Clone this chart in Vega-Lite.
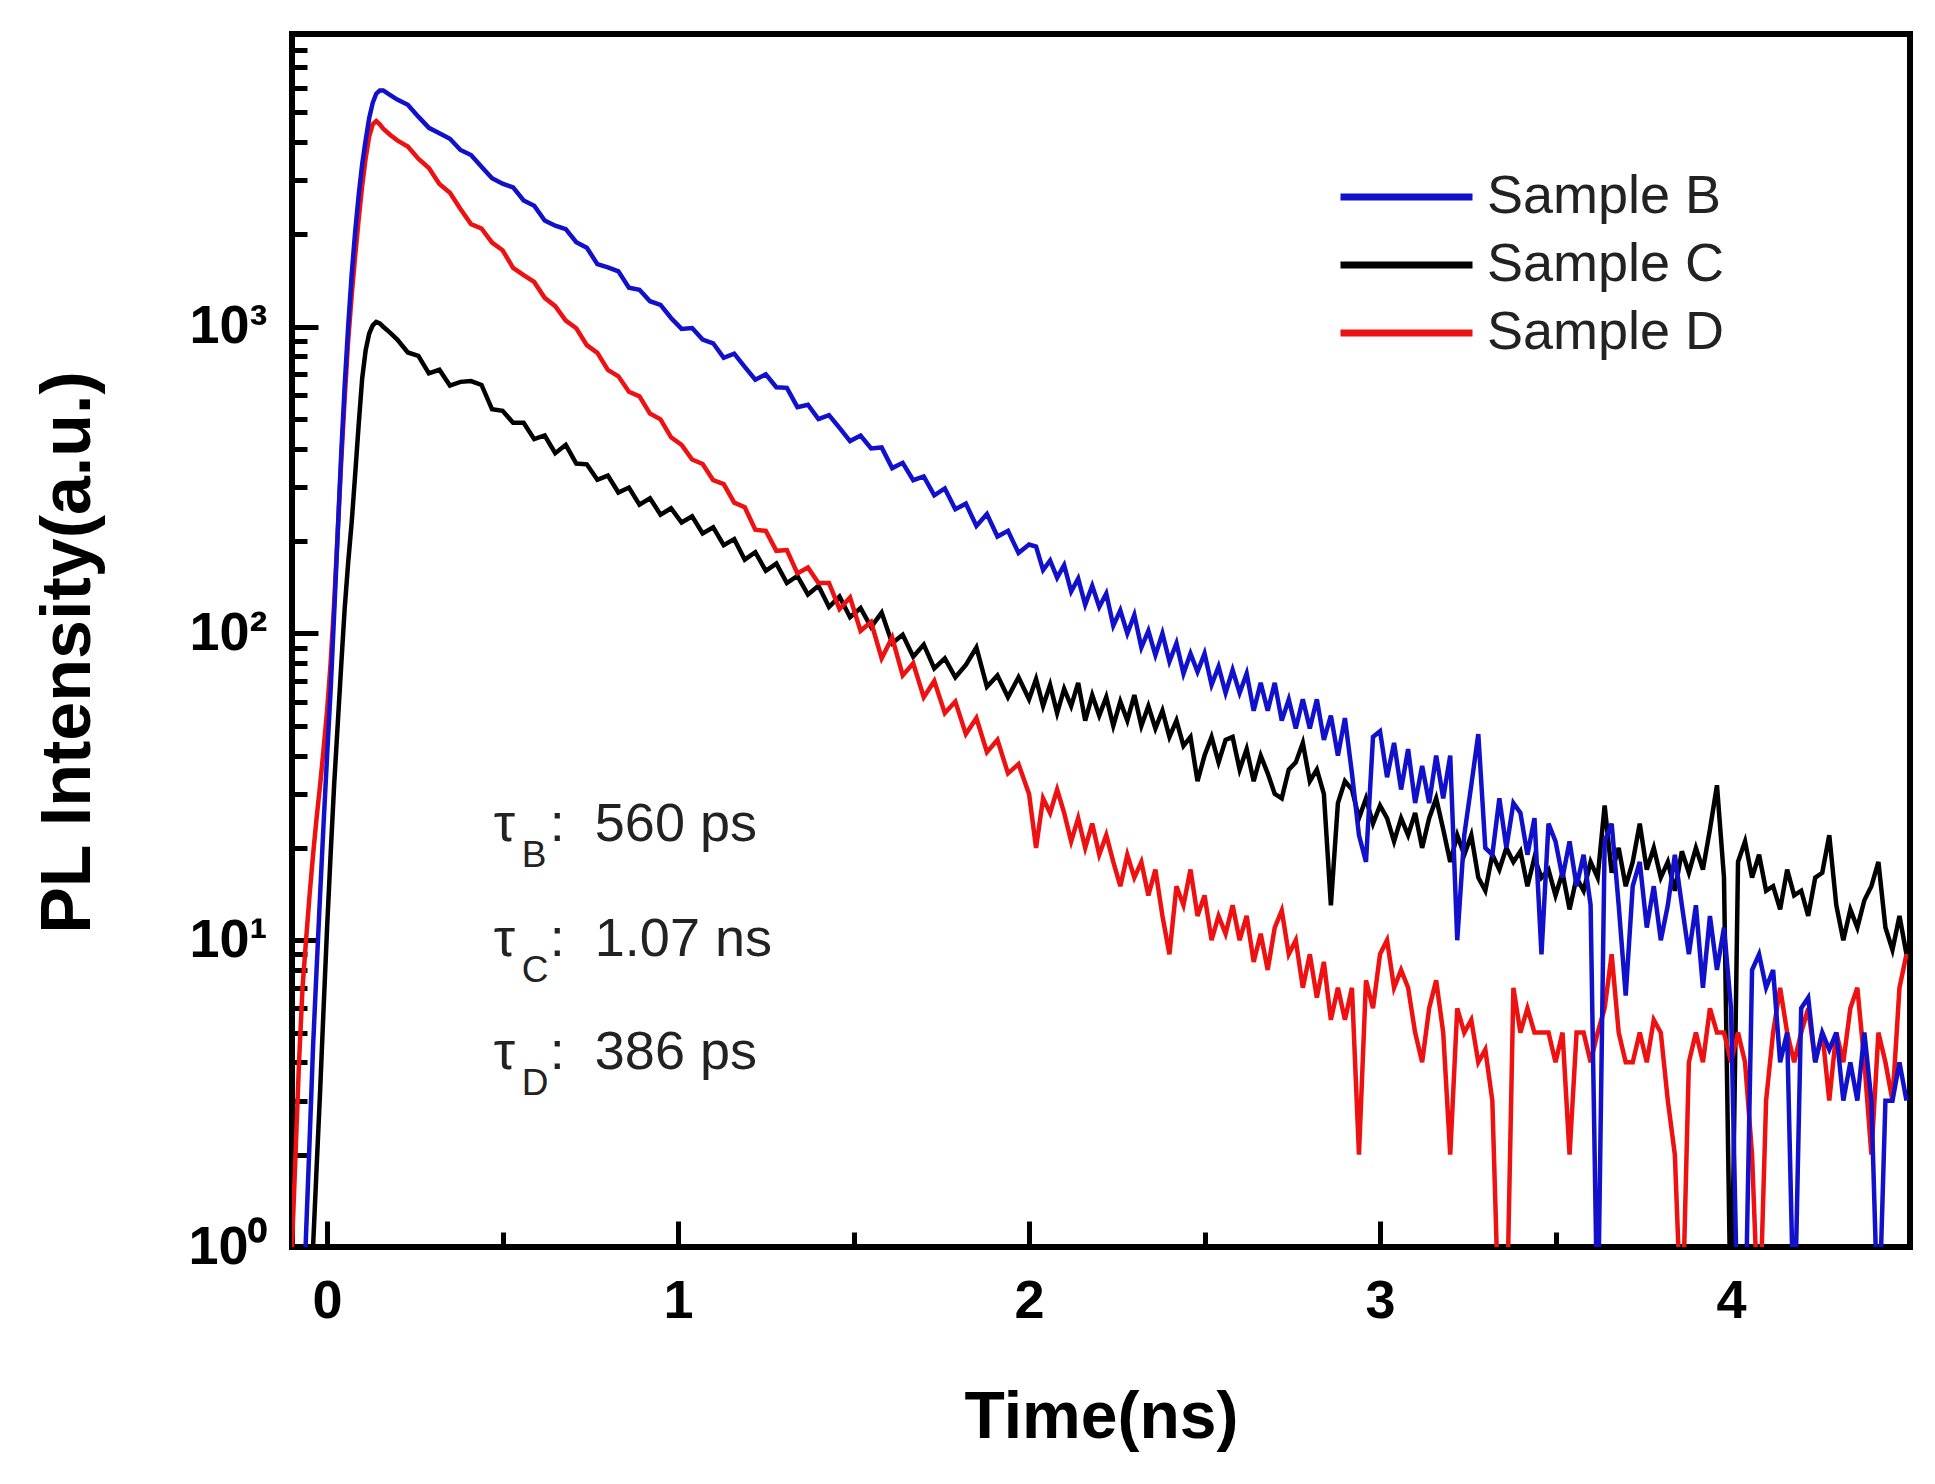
{
  "$schema": "https://vega.github.io/schema/vega-lite/v6.json",
  "width": 1618,
  "height": 1213,
  "autosize": {"type": "none"},
  "padding": {"left": 292, "top": 34, "right": 25, "bottom": 237},
  "background": "white",
  "config": {
    "view": {"stroke": "#000000", "strokeWidth": 6},
    "axis": {"grid": false, "domain": false, "tickColor": "#000000", "tickWidth": 5, "labelFont": "Liberation Sans", "labelFontWeight": "bold", "labelColor": "#000000", "titleFont": "Liberation Sans", "titleFontWeight": "bold", "titleColor": "#000000", "labelFlush": false, "labelOverlap": false}
  },
  "datasets": {
    "decay": [
      {"t": -0.10, "Sample D": 1.0},
      {"t": -0.09, "Sample D": 2.0},
      {"t": -0.08, "Sample B": 0.5, "Sample D": 4.0},
      {"t": -0.07, "Sample B": 0.5, "Sample D": 7.0},
      {"t": -0.06, "Sample B": 1.1, "Sample C": 0.5, "Sample D": 10},
      {"t": -0.05, "Sample B": 2.2, "Sample C": 0.5, "Sample D": 14},
      {"t": -0.04, "Sample B": 4.5, "Sample C": 1.0, "Sample D": 19},
      {"t": -0.03, "Sample B": 8, "Sample C": 1.8, "Sample D": 25},
      {"t": -0.02, "Sample B": 14, "Sample C": 3.2, "Sample D": 32},
      {"t": -0.01, "Sample B": 24, "Sample C": 6, "Sample D": 42},
      {"t": 0.00, "Sample B": 40, "Sample C": 11, "Sample D": 56},
      {"t": 0.01, "Sample B": 65, "Sample C": 19, "Sample D": 80},
      {"t": 0.02, "Sample B": 115, "Sample C": 32, "Sample D": 125},
      {"t": 0.03, "Sample B": 210, "Sample C": 50, "Sample D": 210},
      {"t": 0.04, "Sample B": 380, "Sample C": 78, "Sample D": 360},
      {"t": 0.05, "Sample B": 640, "Sample C": 120, "Sample D": 580},
      {"t": 0.06, "Sample B": 1000, "Sample C": 170, "Sample D": 900},
      {"t": 0.07, "Sample B": 1480, "Sample C": 230, "Sample D": 1260},
      {"t": 0.08, "Sample B": 2040, "Sample C": 330, "Sample D": 1700},
      {"t": 0.09, "Sample B": 2690, "Sample C": 480, "Sample D": 2240},
      {"t": 0.10, "Sample B": 3390, "Sample C": 680, "Sample D": 2880},
      {"t": 0.11, "Sample B": 4070, "Sample C": 840, "Sample D": 3550},
      {"t": 0.12, "Sample B": 4790, "Sample C": 950, "Sample D": 4170},
      {"t": 0.13, "Sample B": 5370, "Sample C": 1010, "Sample D": 4570},
      {"t": 0.14, "Sample B": 5750, "Sample C": 1037, "Sample D": 4680},
      {"t": 0.15, "Sample B": 5890, "Sample C": 1025, "Sample D": 4570},
      {"t": 0.16, "Sample B": 5890, "Sample C": 1000, "Sample D": 4420},
      {"t": 0.18, "Sample B": 5690, "Sample C": 955, "Sample D": 4220},
      {"t": 0.20, "Sample B": 5500, "Sample C": 908, "Sample D": 4050},
      {"t": 0.23, "Sample B": 5290, "Sample C": 824, "Sample D": 3870},
      {"t": 0.26, "Sample B": 4840, "Sample C": 804, "Sample D": 3530},
      {"t": 0.29, "Sample B": 4450, "Sample C": 705, "Sample D": 3290},
      {"t": 0.32, "Sample B": 4270, "Sample C": 724, "Sample D": 2920},
      {"t": 0.35, "Sample B": 4100, "Sample C": 643, "Sample D": 2735},
      {"t": 0.38, "Sample B": 3770, "Sample C": 661, "Sample D": 2420},
      {"t": 0.41, "Sample B": 3630, "Sample C": 665, "Sample D": 2160},
      {"t": 0.44, "Sample B": 3320, "Sample C": 646, "Sample D": 2090},
      {"t": 0.47, "Sample B": 3050, "Sample C": 538, "Sample D": 1880},
      {"t": 0.50, "Sample B": 2925, "Sample C": 532, "Sample D": 1775},
      {"t": 0.53, "Sample B": 2845, "Sample C": 486, "Sample D": 1556},
      {"t": 0.56, "Sample B": 2580, "Sample C": 486, "Sample D": 1472},
      {"t": 0.59, "Sample B": 2480, "Sample C": 430, "Sample D": 1400},
      {"t": 0.62, "Sample B": 2220, "Sample C": 442, "Sample D": 1242},
      {"t": 0.65, "Sample B": 2135, "Sample C": 387, "Sample D": 1167},
      {"t": 0.68, "Sample B": 2080, "Sample C": 412, "Sample D": 1047},
      {"t": 0.71, "Sample B": 1885, "Sample C": 358, "Sample D": 989},
      {"t": 0.74, "Sample B": 1810, "Sample C": 356, "Sample D": 871},
      {"t": 0.77, "Sample B": 1600, "Sample C": 317, "Sample D": 822},
      {"t": 0.80, "Sample B": 1560, "Sample C": 327, "Sample D": 723},
      {"t": 0.83, "Sample B": 1515, "Sample C": 288, "Sample D": 689},
      {"t": 0.86, "Sample B": 1340, "Sample C": 299, "Sample D": 614},
      {"t": 0.89, "Sample B": 1320, "Sample C": 263, "Sample D": 593},
      {"t": 0.92, "Sample B": 1211, "Sample C": 276, "Sample D": 521},
      {"t": 0.95, "Sample B": 1178, "Sample C": 244, "Sample D": 499},
      {"t": 0.98, "Sample B": 1068, "Sample C": 256, "Sample D": 436},
      {"t": 1.01, "Sample B": 984, "Sample C": 230, "Sample D": 412},
      {"t": 1.04, "Sample B": 990, "Sample C": 241, "Sample D": 369},
      {"t": 1.07, "Sample B": 908, "Sample C": 212, "Sample D": 357},
      {"t": 1.10, "Sample B": 883, "Sample C": 222, "Sample D": 316},
      {"t": 1.13, "Sample B": 792, "Sample C": 194, "Sample D": 307},
      {"t": 1.16, "Sample B": 817, "Sample C": 203, "Sample D": 267},
      {"t": 1.19, "Sample B": 740, "Sample C": 174, "Sample D": 258},
      {"t": 1.22, "Sample B": 672, "Sample C": 184, "Sample D": 218},
      {"t": 1.25, "Sample B": 700, "Sample C": 160, "Sample D": 216},
      {"t": 1.28, "Sample B": 635, "Sample C": 169, "Sample D": 186},
      {"t": 1.31, "Sample B": 632, "Sample C": 146, "Sample D": 187},
      {"t": 1.34, "Sample B": 547, "Sample C": 154, "Sample D": 157},
      {"t": 1.37, "Sample B": 557, "Sample C": 134, "Sample D": 164},
      {"t": 1.40, "Sample B": 500, "Sample C": 143, "Sample D": 146},
      {"t": 1.43, "Sample B": 515, "Sample C": 122, "Sample D": 146},
      {"t": 1.46, "Sample B": 468, "Sample C": 132, "Sample D": 120},
      {"t": 1.49, "Sample B": 424, "Sample C": 113, "Sample D": 131},
      {"t": 1.52, "Sample B": 442, "Sample C": 121, "Sample D": 102},
      {"t": 1.55, "Sample B": 401, "Sample C": 105, "Sample D": 109},
      {"t": 1.58, "Sample B": 404, "Sample C": 117, "Sample D": 83},
      {"t": 1.61, "Sample B": 346, "Sample C": 93, "Sample D": 97},
      {"t": 1.64, "Sample B": 360, "Sample C": 99, "Sample D": 73},
      {"t": 1.67, "Sample B": 316, "Sample C": 84, "Sample D": 80},
      {"t": 1.70, "Sample B": 325, "Sample C": 92, "Sample D": 62},
      {"t": 1.73, "Sample B": 282, "Sample C": 77, "Sample D": 70},
      {"t": 1.76, "Sample B": 297, "Sample C": 83, "Sample D": 55},
      {"t": 1.79, "Sample B": 254, "Sample C": 72, "Sample D": 60},
      {"t": 1.82, "Sample B": 265, "Sample C": 79, "Sample D": 47},
      {"t": 1.85, "Sample B": 224, "Sample C": 90, "Sample D": 53},
      {"t": 1.88, "Sample B": 245, "Sample C": 67, "Sample D": 41},
      {"t": 1.91, "Sample B": 207, "Sample C": 73, "Sample D": 45},
      {"t": 1.94, "Sample B": 216, "Sample C": 62, "Sample D": 35},
      {"t": 1.97, "Sample B": 183, "Sample C": 72, "Sample D": 37.5},
      {"t": 2.00, "Sample B": 195, "Sample C": 61, "Sample D": 30},
      {"t": 2.02, "Sample B": 192, "Sample C": 71, "Sample D": 20},
      {"t": 2.04, "Sample B": 161, "Sample C": 58, "Sample D": 29},
      {"t": 2.06, "Sample B": 173, "Sample C": 68, "Sample D": 26},
      {"t": 2.08, "Sample B": 152, "Sample C": 55, "Sample D": 31},
      {"t": 2.10, "Sample B": 167, "Sample C": 66, "Sample D": 26},
      {"t": 2.12, "Sample B": 137, "Sample C": 58, "Sample D": 21},
      {"t": 2.14, "Sample B": 151, "Sample C": 69, "Sample D": 25},
      {"t": 2.16, "Sample B": 124, "Sample C": 52, "Sample D": 20},
      {"t": 2.18, "Sample B": 143, "Sample C": 63, "Sample D": 24},
      {"t": 2.20, "Sample B": 122, "Sample C": 54, "Sample D": 19},
      {"t": 2.22, "Sample B": 135, "Sample C": 62, "Sample D": 22},
      {"t": 2.24, "Sample B": 106, "Sample C": 50, "Sample D": 18},
      {"t": 2.26, "Sample B": 119, "Sample C": 60, "Sample D": 15},
      {"t": 2.28, "Sample B": 100, "Sample C": 52, "Sample D": 19},
      {"t": 2.30, "Sample B": 115, "Sample C": 63, "Sample D": 16},
      {"t": 2.32, "Sample B": 90, "Sample C": 50, "Sample D": 18},
      {"t": 2.34, "Sample B": 102, "Sample C": 58, "Sample D": 14},
      {"t": 2.36, "Sample B": 85, "Sample C": 49, "Sample D": 17},
      {"t": 2.38, "Sample B": 100, "Sample C": 56, "Sample D": 12},
      {"t": 2.40, "Sample B": 81, "Sample C": 46, "Sample D": 9},
      {"t": 2.42, "Sample B": 93, "Sample C": 52, "Sample D": 15},
      {"t": 2.44, "Sample B": 74, "Sample C": 43, "Sample D": 13},
      {"t": 2.46, "Sample B": 86, "Sample C": 46, "Sample D": 17},
      {"t": 2.48, "Sample B": 75, "Sample C": 33, "Sample D": 12},
      {"t": 2.50, "Sample B": 86, "Sample C": 40, "Sample D": 14},
      {"t": 2.52, "Sample B": 68, "Sample C": 46, "Sample D": 10},
      {"t": 2.54, "Sample B": 78, "Sample C": 38, "Sample D": 12},
      {"t": 2.56, "Sample B": 64, "Sample C": 45, "Sample D": 10.5},
      {"t": 2.58, "Sample B": 76, "Sample C": 46, "Sample D": 13},
      {"t": 2.60, "Sample B": 64, "Sample C": 36, "Sample D": 10},
      {"t": 2.62, "Sample B": 74, "Sample C": 42, "Sample D": 12},
      {"t": 2.64, "Sample B": 56, "Sample C": 33, "Sample D": 8.5},
      {"t": 2.66, "Sample B": 69, "Sample C": 40, "Sample D": 10.5},
      {"t": 2.68, "Sample B": 56, "Sample C": 35, "Sample D": 8},
      {"t": 2.70, "Sample B": 69, "Sample C": 30, "Sample D": 11},
      {"t": 2.72, "Sample B": 52, "Sample C": 29, "Sample D": 12.5},
      {"t": 2.74, "Sample B": 61, "Sample C": 36, "Sample D": 9},
      {"t": 2.76, "Sample B": 49, "Sample C": 38, "Sample D": 10},
      {"t": 2.78, "Sample B": 61, "Sample C": 44, "Sample D": 7},
      {"t": 2.80, "Sample B": 49, "Sample C": 33, "Sample D": 9},
      {"t": 2.82, "Sample B": 61, "Sample C": 36, "Sample D": 6.5},
      {"t": 2.84, "Sample B": 45, "Sample C": 30, "Sample D": 8.5},
      {"t": 2.86, "Sample B": 54, "Sample C": 13, "Sample D": 5.5},
      {"t": 2.88, "Sample B": 40, "Sample C": 28, "Sample D": 7},
      {"t": 2.90, "Sample B": 53, "Sample C": 33, "Sample D": 5.5},
      {"t": 2.92, "Sample B": 35, "Sample C": 31, "Sample D": 7},
      {"t": 2.94, "Sample B": 22, "Sample C": 25, "Sample D": 2},
      {"t": 2.96, "Sample B": 18, "Sample C": 29, "Sample D": 7.4},
      {"t": 2.98, "Sample B": 46, "Sample C": 24, "Sample D": 6},
      {"t": 3.00, "Sample B": 48, "Sample C": 27.5, "Sample D": 9},
      {"t": 3.02, "Sample B": 34, "Sample C": 25, "Sample D": 10},
      {"t": 3.04, "Sample B": 44, "Sample C": 21, "Sample D": 7},
      {"t": 3.06, "Sample B": 31, "Sample C": 25, "Sample D": 8},
      {"t": 3.08, "Sample B": 42, "Sample C": 22, "Sample D": 7},
      {"t": 3.10, "Sample B": 28, "Sample C": 26, "Sample D": 5},
      {"t": 3.12, "Sample B": 37, "Sample C": 20, "Sample D": 4},
      {"t": 3.14, "Sample B": 28, "Sample C": 25, "Sample D": 6},
      {"t": 3.16, "Sample B": 40, "Sample C": 29, "Sample D": 7.4},
      {"t": 3.18, "Sample B": 29, "Sample C": 23, "Sample D": 5},
      {"t": 3.20, "Sample B": 40, "Sample C": 18, "Sample D": 2},
      {"t": 3.22, "Sample B": 10, "Sample C": 22, "Sample D": 6},
      {"t": 3.24, "Sample B": 22, "Sample C": 19, "Sample D": 5},
      {"t": 3.26, "Sample B": 32, "Sample C": 22, "Sample D": 5.5},
      {"t": 3.28, "Sample B": 47, "Sample C": 16, "Sample D": 4},
      {"t": 3.30, "Sample B": 20, "Sample C": 14.5, "Sample D": 4.4},
      {"t": 3.32, "Sample B": 19, "Sample C": 19, "Sample D": 3},
      {"t": 3.34, "Sample B": 29, "Sample C": 17, "Sample D": 0.5},
      {"t": 3.36, "Sample B": 20, "Sample C": 20, "Sample D": 0.5},
      {"t": 3.38, "Sample B": 28, "Sample C": 18, "Sample D": 7},
      {"t": 3.40, "Sample B": 26, "Sample C": 19.5, "Sample D": 5},
      {"t": 3.42, "Sample B": 19, "Sample C": 15, "Sample D": 6},
      {"t": 3.44, "Sample B": 25, "Sample C": 18.6, "Sample D": 5},
      {"t": 3.46, "Sample B": 9, "Sample C": 16, "Sample D": 5},
      {"t": 3.48, "Sample B": 24, "Sample C": 17, "Sample D": 5},
      {"t": 3.50, "Sample B": 21, "Sample C": 14, "Sample D": 4},
      {"t": 3.52, "Sample B": 16, "Sample C": 16.6, "Sample D": 5},
      {"t": 3.54, "Sample B": 21, "Sample C": 12.6, "Sample D": 2},
      {"t": 3.56, "Sample B": 15, "Sample C": 16, "Sample D": 5},
      {"t": 3.58, "Sample B": 19, "Sample C": 14.5, "Sample D": 5},
      {"t": 3.60, "Sample B": 13, "Sample C": 18, "Sample D": 4},
      {"t": 3.62, "Sample B": 0.5, "Sample C": 16, "Sample D": 5},
      {"t": 3.64, "Sample B": 21, "Sample C": 27.5, "Sample D": 6},
      {"t": 3.66, "Sample B": 24, "Sample C": 16.6, "Sample D": 9},
      {"t": 3.68, "Sample B": 13, "Sample C": 20, "Sample D": 5},
      {"t": 3.70, "Sample B": 6.6, "Sample C": 15, "Sample D": 4},
      {"t": 3.72, "Sample B": 15, "Sample C": 18, "Sample D": 4},
      {"t": 3.74, "Sample B": 18, "Sample C": 24, "Sample D": 5},
      {"t": 3.76, "Sample B": 11, "Sample C": 17, "Sample D": 4},
      {"t": 3.78, "Sample B": 15, "Sample C": 20, "Sample D": 5.5},
      {"t": 3.80, "Sample B": 10, "Sample C": 16, "Sample D": 5},
      {"t": 3.82, "Sample B": 13, "Sample C": 18, "Sample D": 3},
      {"t": 3.84, "Sample B": 19, "Sample C": 14.5, "Sample D": 2},
      {"t": 3.86, "Sample B": 13, "Sample C": 19.5, "Sample D": 0.5},
      {"t": 3.88, "Sample B": 9, "Sample C": 16.6, "Sample D": 4},
      {"t": 3.90, "Sample B": 13, "Sample C": 20, "Sample D": 5},
      {"t": 3.92, "Sample B": 7, "Sample C": 17, "Sample D": 4},
      {"t": 3.94, "Sample B": 12, "Sample C": 23, "Sample D": 6},
      {"t": 3.96, "Sample B": 8, "Sample C": 32, "Sample D": 5},
      {"t": 3.98, "Sample B": 11, "Sample C": 16, "Sample D": 5},
      {"t": 4.00, "Sample B": 6, "Sample C": 0.5, "Sample D": 4},
      {"t": 4.02, "Sample B": 0.5, "Sample C": 18, "Sample D": 5},
      {"t": 4.04, "Sample B": 0.5, "Sample C": 21, "Sample D": 4},
      {"t": 4.06, "Sample B": 8, "Sample C": 16, "Sample D": 2},
      {"t": 4.08, "Sample B": 9, "Sample C": 19, "Sample D": 0.5},
      {"t": 4.10, "Sample B": 7, "Sample C": 14.5, "Sample D": 3},
      {"t": 4.12, "Sample B": 8, "Sample C": 15, "Sample D": 5},
      {"t": 4.14, "Sample B": 4, "Sample C": 12.6, "Sample D": 7},
      {"t": 4.16, "Sample B": 5, "Sample C": 17, "Sample D": 5},
      {"t": 4.18, "Sample B": 0.5, "Sample C": 14, "Sample D": 4},
      {"t": 4.20, "Sample B": 6, "Sample C": 14.5, "Sample D": 5},
      {"t": 4.22, "Sample B": 6.5, "Sample C": 12, "Sample D": 6},
      {"t": 4.24, "Sample B": 4, "Sample C": 16, "Sample D": 4},
      {"t": 4.26, "Sample B": 5, "Sample C": 16.6, "Sample D": 5},
      {"t": 4.28, "Sample B": 4.4, "Sample C": 22, "Sample D": 3},
      {"t": 4.30, "Sample B": 5, "Sample C": 13, "Sample D": 5},
      {"t": 4.32, "Sample B": 3, "Sample C": 10, "Sample D": 4},
      {"t": 4.34, "Sample B": 4, "Sample C": 12.6, "Sample D": 6},
      {"t": 4.36, "Sample B": 3, "Sample C": 11, "Sample D": 7},
      {"t": 4.38, "Sample B": 5, "Sample C": 13.5, "Sample D": 4},
      {"t": 4.40, "Sample B": 3, "Sample C": 15, "Sample D": 2},
      {"t": 4.42, "Sample B": 0.5, "Sample C": 18, "Sample D": 5},
      {"t": 4.44, "Sample B": 3, "Sample C": 11, "Sample D": 4},
      {"t": 4.46, "Sample B": 3, "Sample C": 9.3, "Sample D": 3},
      {"t": 4.48, "Sample B": 4, "Sample C": 12, "Sample D": 7},
      {"t": 4.50, "Sample B": 3, "Sample C": 9, "Sample D": 9}
    ],
    "notes": [
      {"t": 0.475, "v": 23.8, "sym": "τ", "sub": "B", "txt": ": \u00a0560 ps"},
      {"t": 0.475, "v": 10.0, "sym": "τ", "sub": "C", "txt": ": \u00a01.07 ns"},
      {"t": 0.475, "v": 4.29, "sym": "τ", "sub": "D", "txt": ": \u00a0386 ps"}
    ]
  },
  "layer": [
    {
      "data": {"name": "decay"},
      "transform": [{"fold": ["Sample B", "Sample C", "Sample D"], "as": ["sample", "intensity"]}, {"filter": "datum.sample === 'Sample C'"}],
      "mark": {"type": "line", "clip": true, "strokeWidth": 4.5},
      "encoding": {
        "x": {"field": "t", "type": "quantitative", "scale": {"domain": [-0.1, 4.51], "nice": false, "zero": false},
              "axis": {"orient": "bottom", "values": [0, 1, 2, 3, 4], "format": "d", "tickSize": -26, "labelFontSize": 54, "labelPadding": 53,
                       "title": "Time(ns)", "titleFontSize": 66, "titleX": 809, "titleY": 190, "titleBaseline": "alphabetic", "titleAlign": "center", "titleAnchor": null}},
        "y": {"field": "intensity", "type": "quantitative", "scale": {"type": "log", "domain": [1, 9000], "nice": false},
              "axis": {"orient": "left", "values": [1, 10, 100, 1000], "tickSize": -26, "labelFontSize": 54, "labelPadding": 51,
                       "labelExpr": "datum.value < 5 ? '10⁰' : datum.value < 50 ? '10¹' : datum.value < 500 ? '10²' : '10³'",
                       "title": "PL Intensity(a.u.)", "titleFontSize": 70, "titleAngle": -90, "titleX": -203, "titleY": 618, "titleBaseline": "alphabetic", "titleAlign": "center"}},
        "color": {"field": "sample", "type": "nominal", "title": null,
                  "scale": {"domain": ["Sample B", "Sample C", "Sample D"], "range": ["#1111cc", "#000000", "#ee1111"]},
                  "legend": {"orient": "none", "legendX": 1045, "legendY": 129, "padding": 0, "symbolType": "stroke", "symbolSize": 17424, "symbolStrokeWidth": 7, "clipHeight": 68, "rowPadding": 0, "labelOffset": 11, "labelFont": "Liberation Sans", "labelFontSize": 54, "labelColor": "#222222", "labelLimit": 400}}
      }
    },
    {
      "data": {"name": "decay"},
      "transform": [{"fold": ["Sample B", "Sample C", "Sample D"], "as": ["sample", "intensity"]}, {"filter": "datum.sample === 'Sample D'"}],
      "mark": {"type": "line", "clip": true, "strokeWidth": 4.5},
      "encoding": {
        "x": {"field": "t", "type": "quantitative",
              "axis": {"orient": "bottom", "values": [0.5, 1.5, 2.5, 3.5], "tickSize": -15, "labels": false, "title": null}},
        "y": {"field": "intensity", "type": "quantitative",
              "axis": {"orient": "left", "values": [2, 3, 4, 5, 6, 7, 8, 9, 20, 30, 40, 50, 60, 70, 80, 90, 200, 300, 400, 500, 600, 700, 800, 900, 2000, 3000, 4000, 5000, 6000, 7000, 8000], "tickSize": -15, "labels": false, "title": null}},
        "color": {"field": "sample", "type": "nominal", "title": null,
                  "legend": {"orient": "none", "legendX": 1045, "legendY": 129, "padding": 0, "symbolType": "stroke", "symbolSize": 17424, "symbolStrokeWidth": 7, "clipHeight": 68, "rowPadding": 0, "labelOffset": 11, "labelFont": "Liberation Sans", "labelFontSize": 54, "labelColor": "#222222", "labelLimit": 400}}
      }
    },
    {
      "data": {"name": "decay"},
      "transform": [{"fold": ["Sample B", "Sample C", "Sample D"], "as": ["sample", "intensity"]}, {"filter": "datum.sample === 'Sample B'"}],
      "mark": {"type": "line", "clip": true, "strokeWidth": 4.5},
      "encoding": {
        "x": {"field": "t", "type": "quantitative", "axis": null},
        "y": {"field": "intensity", "type": "quantitative", "axis": null},
        "color": {"field": "sample", "type": "nominal", "title": null,
                  "legend": {"orient": "none", "legendX": 1045, "legendY": 129, "padding": 0, "symbolType": "stroke", "symbolSize": 17424, "symbolStrokeWidth": 7, "clipHeight": 68, "rowPadding": 0, "labelOffset": 11, "labelFont": "Liberation Sans", "labelFontSize": 54, "labelColor": "#222222", "labelLimit": 400}}
      }
    },
    {
      "data": {"name": "notes"},
      "mark": {"type": "text", "align": "left", "baseline": "middle", "font": "Liberation Sans", "fontSize": 54, "color": "#222222"},
      "encoding": {
        "x": {"field": "t", "type": "quantitative", "axis": null},
        "y": {"field": "v", "type": "quantitative", "axis": null},
        "text": {"field": "sym"}
      }
    },
    {
      "data": {"name": "notes"},
      "mark": {"type": "text", "align": "left", "baseline": "middle", "font": "Liberation Sans", "fontSize": 37, "color": "#222222", "dx": 28, "dy": 31},
      "encoding": {
        "x": {"field": "t", "type": "quantitative", "axis": null},
        "y": {"field": "v", "type": "quantitative", "axis": null},
        "text": {"field": "sub"}
      }
    },
    {
      "data": {"name": "notes"},
      "mark": {"type": "text", "align": "left", "baseline": "middle", "font": "Liberation Sans", "fontSize": 54, "color": "#222222", "dx": 56},
      "encoding": {
        "x": {"field": "t", "type": "quantitative", "axis": null},
        "y": {"field": "v", "type": "quantitative", "axis": null},
        "text": {"field": "txt"}
      }
    }
  ],
  "resolve": {"axis": {"x": "independent", "y": "independent"}}
}
